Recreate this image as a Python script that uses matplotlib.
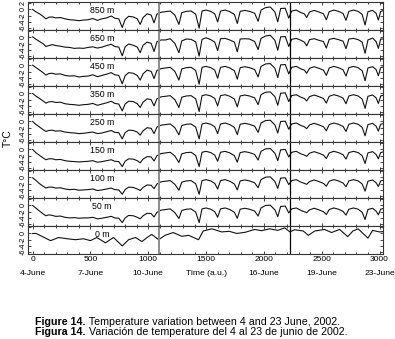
import matplotlib
matplotlib.use('Agg')
import matplotlib.pyplot as plt
from matplotlib.ticker import MultipleLocator

plt.rcParams['font.family'] = ['Liberation Sans', 'DejaVu Sans']

# time axis (a.u.) shared by the sub-surface records
t_sub = [0, 30, 60, 90, 115, 140, 170, 200, 240, 280,
         320, 360, 400, 440, 480, 520, 560, 600, 640, 680,
         710, 745, 775, 800, 830, 870, 905, 930, 955, 990,
         1025, 1050, 1075, 1110, 1150, 1190, 1230, 1265, 1290, 1330,
         1370, 1410, 1440, 1465, 1500, 1540, 1575, 1600, 1625, 1665,
         1705, 1745, 1770, 1795, 1835, 1875, 1920, 1950, 1975, 2015,
         2055, 2095, 2120, 2145, 2185, 2215, 2240, 2280, 2320, 2350,
         2370, 2395, 2435, 2475, 2515, 2540, 2565, 2605, 2645, 2685,
         2710, 2735, 2775, 2815, 2850, 2875, 2900, 2940, 2970, 2990,
         3010, 3030]

v850 = [0.0, -0.8, -1.4, -2.2, -3.0, -2.5, -2.4, -2.7, -2.6, -3.0,
        -3.3, -3.4, -3.6, -3.4, -3.3, -2.9, -3.5, -3.0, -2.7, -2.1,
        -2.8, -3.0, -5.8, -3.2, -2.2, -2.4, -3.0, -4.8, -2.6, -1.4,
        -1.8, -4.3, -1.5, -0.9, -0.7, -0.5, -1.8, -4.8, -1.0, -0.6,
        -0.5, -1.5, -6.0, -0.5, -0.2, -0.6, -1.4, -4.0, -0.5, -0.2,
        -0.7, -1.6, -4.5, -0.6, -0.3, -0.6, -1.2, -3.8, -0.2, 0.6,
        0.8, -0.8, -4.0, 0.3, 0.4, -2.8, -0.5, -0.2, -1.0, -1.4,
        -2.6, -0.8, -0.3, -0.8, -1.4, -3.3, -0.7, -0.2, -0.6, -1.3,
        -3.5, -0.6, -0.2, -0.6, -1.6, -5.0, -0.7, -0.3, -1.2, -3.4,
        -0.6, -0.4]

v650 = [0.2, -0.6, -1.3, -2.0, -2.9, -2.6, -2.3, -2.6, -2.8, -3.1,
        -3.2, -3.5, -3.4, -3.5, -3.2, -3.0, -3.4, -3.1, -2.6, -2.2,
        -2.9, -3.1, -5.9, -3.0, -2.1, -2.5, -3.1, -4.9, -2.5, -1.5,
        -1.9, -4.5, -1.4, -0.8, -0.8, -0.4, -1.9, -4.9, -1.1, -0.5,
        -0.6, -1.4, -6.0, -0.6, -0.1, -0.7, -1.5, -4.2, -0.4, -0.3,
        -0.8, -1.5, -4.6, -0.5, -0.4, -0.5, -1.3, -3.9, -0.3, 0.5,
        0.7, -0.9, -4.1, 0.2, 0.3, -2.9, -0.6, -0.3, -0.9, -1.5,
        -2.7, -0.7, -0.4, -0.9, -1.3, -3.4, -0.6, -0.3, -0.7, -1.2,
        -3.6, -0.5, -0.3, -0.7, -1.5, -5.1, -0.8, -0.2, -1.3, -3.5,
        -0.5, -0.5]

v450 = [0.1, -0.7, -1.5, -2.3, -3.1, -2.6, -2.5, -2.8, -2.7, -3.2,
        -3.4, -3.3, -3.7, -3.5, -3.4, -3.0, -3.6, -3.2, -2.8, -2.3,
        -3.0, -3.2, -5.9, -3.3, -2.3, -2.5, -3.2, -4.7, -2.7, -1.5,
        -1.9, -4.2, -1.6, -1.0, -0.8, -0.6, -1.9, -4.7, -1.1, -0.7,
        -0.6, -1.6, -6.0, -0.6, -0.3, -0.7, -1.5, -4.1, -0.6, -0.3,
        -0.8, -1.7, -4.4, -0.7, -0.4, -0.7, -1.3, -3.7, -0.3, 0.5,
        0.6, -0.9, -3.9, 0.2, 0.3, -2.7, -0.6, -0.3, -1.1, -1.5,
        -2.5, -0.9, -0.4, -0.9, -1.5, -3.2, -0.8, -0.3, -0.7, -1.4,
        -3.4, -0.7, -0.3, -0.7, -1.7, -4.9, -0.8, -0.4, -1.3, -3.3,
        -0.7, -0.5]

v350 = [0.0, -0.9, -1.6, -2.4, -3.1, -2.7, -2.6, -2.9, -2.8, -3.3,
        -3.5, -3.6, -3.8, -3.6, -3.5, -3.2, -3.8, -3.4, -3.0, -2.5,
        -3.2, -3.4, -5.6, -3.4, -2.5, -2.6, -3.3, -4.5, -2.8, -1.7,
        -2.0, -4.0, -1.7, -1.1, -0.9, -0.7, -2.0, -4.5, -1.2, -0.8,
        -0.7, -1.7, -5.8, -0.7, -0.4, -0.8, -1.6, -4.0, -0.7, -0.4,
        -0.9, -1.8, -4.3, -0.8, -0.5, -0.8, -1.4, -3.6, -0.4, 0.4,
        0.5, -1.0, -3.8, 0.1, 0.2, -2.6, -0.7, -0.4, -1.2, -1.6,
        -2.4, -1.0, -0.5, -1.0, -1.6, -3.1, -0.9, -0.4, -0.8, -1.5,
        -3.3, -0.8, -0.4, -0.8, -1.8, -4.8, -0.9, -0.5, -1.4, -3.2,
        -0.8, -0.6]

v250 = [0.0, -1.0, -1.8, -2.6, -3.2, -2.9, -2.8, -3.1, -3.0, -3.4,
        -3.6, -3.7, -3.9, -3.8, -3.6, -3.4, -3.9, -3.7, -3.3, -2.9,
        -3.5, -3.6, -5.6, -3.6, -2.8, -2.9, -3.4, -4.4, -3.0, -2.0,
        -2.2, -3.9, -1.8, -1.2, -1.0, -0.8, -2.0, -4.3, -1.3, -0.9,
        -0.8, -1.8, -5.6, -0.8, -0.5, -0.9, -1.7, -3.9, -0.8, -0.5,
        -1.0, -1.9, -4.2, -0.9, -0.6, -0.9, -1.5, -3.5, -0.5, 0.3,
        0.4, -1.1, -3.7, 0.0, 0.1, -2.5, -0.8, -0.5, -1.3, -1.7,
        -2.3, -1.1, -0.6, -1.1, -1.7, -3.0, -1.0, -0.5, -0.9, -1.6,
        -3.2, -0.9, -0.5, -0.9, -1.9, -4.6, -1.0, -0.6, -1.5, -3.1,
        -0.9, -0.7]

v150 = [0.0, -1.1, -1.9, -2.7, -3.3, -3.0, -3.0, -3.3, -3.2, -3.6,
        -3.8, -3.9, -4.0, -3.9, -3.8, -3.6, -4.1, -3.9, -3.6, -3.3,
        -3.8, -3.9, -5.5, -3.8, -3.0, -3.1, -3.6, -4.3, -3.1, -2.3,
        -2.4, -3.7, -2.0, -1.3, -1.1, -0.9, -2.1, -4.2, -1.4, -1.0,
        -0.9, -1.9, -5.5, -0.9, -0.6, -1.0, -1.8, -3.8, -0.9, -0.6,
        -1.1, -2.0, -4.1, -1.0, -0.7, -1.0, -1.6, -3.4, -0.6, 0.2,
        0.3, -1.2, -3.6, -0.1, 0.0, -2.4, -0.9, -0.6, -1.4, -1.8,
        -2.2, -1.2, -0.7, -1.2, -1.8, -2.9, -1.1, -0.6, -1.0, -1.7,
        -3.1, -1.0, -0.6, -1.0, -2.0, -4.5, -1.1, -0.7, -1.6, -3.0,
        -1.0, -0.8]

v100 = [-0.1, -1.0, -2.0, -2.8, -3.4, -3.1, -3.1, -3.4, -3.3, -3.7,
        -3.9, -3.8, -4.1, -4.0, -3.9, -3.7, -4.2, -4.0, -3.7, -3.4,
        -3.9, -4.0, -5.4, -3.9, -3.1, -3.2, -3.7, -4.2, -3.2, -2.4,
        -2.5, -3.6, -2.1, -1.4, -1.2, -1.0, -2.2, -4.1, -1.5, -1.1,
        -1.0, -2.0, -5.4, -1.0, -0.7, -1.1, -1.9, -3.7, -1.0, -0.7,
        -1.2, -2.1, -4.0, -1.1, -0.8, -1.1, -1.7, -3.3, -0.7, 0.1,
        0.2, -1.3, -3.5, -0.2, -0.1, -2.3, -1.0, -0.7, -1.5, -1.9,
        -2.2, -1.3, -0.8, -1.3, -1.9, -2.8, -1.2, -0.7, -1.1, -1.8,
        -3.0, -1.1, -0.7, -1.1, -2.1, -4.4, -1.2, -0.8, -1.7, -2.9,
        -1.1, -0.9]

v50 = [0.0, -0.9, -1.8, -2.7, -3.3, -3.0, -3.2, -3.5, -3.4, -3.8,
       -4.0, -3.9, -4.1, -4.0, -4.0, -3.8, -4.3, -4.1, -3.8, -3.5,
       -4.0, -4.1, -5.5, -4.0, -3.2, -3.3, -3.8, -4.3, -3.3, -2.5,
       -2.6, -3.7, -2.2, -1.5, -1.3, -1.1, -2.3, -4.2, -1.6, -1.2,
       -1.1, -2.1, -5.5, -1.1, -0.8, -1.2, -2.0, -3.8, -1.1, -0.8,
       -1.3, -2.2, -4.1, -1.2, -0.9, -1.2, -1.8, -3.4, -0.8, 0.0,
       0.1, -1.4, -3.6, -0.3, -0.2, -2.4, -1.1, -0.8, -1.6, -2.0,
       -2.3, -1.4, -0.9, -1.4, -2.0, -2.9, -1.3, -0.8, -1.2, -1.9,
       -3.1, -1.2, -0.8, -1.2, -2.2, -4.5, -1.3, -0.9, -1.8, -3.0,
       -1.2, -1.0]

# surface record
t0 = [0, 30, 85, 155, 225, 300, 370, 440, 500, 555,
      630, 670, 700, 775, 830, 890, 945, 990, 1030, 1090,
      1145, 1215, 1290, 1350, 1435, 1475, 1550, 1635, 1700, 1765,
      1840, 1920, 1980, 2050, 2120, 2180, 2225, 2265, 2340, 2385,
      2440, 2525, 2585, 2655, 2725, 2770, 2815, 2900, 2940, 3000,
      3030]
v0 = [0.0, 0.0, -1.0, -2.3, -1.3, -1.7, -2.0, -1.7, -2.3, -1.3,
      -3.0, -2.0, -1.3, -4.0, -2.0, -1.3, -2.6, -1.3, -0.3, -2.0,
      -0.6, 0.3, -0.9, -0.6, -2.0, 0.8, 1.5, 0.5, 0.7, 0.0,
      0.4, 1.3, 0.9, 1.5, 1.0, 1.8, 0.5, 1.2, 0.8, -0.6,
      0.8, 1.3, 0.3, 1.3, -1.0, 0.8, 1.5, -1.5, 1.0, 0.5,
      0.6]

depth_labels = ['850 m', '650 m', '450 m', '350 m', '250 m', '150 m', '100 m', '50 m', '0 m']
series = [v850, v650, v450, v350, v250, v150, v100, v50, v0]
times = [t_sub] * 8 + [t0]

y_ticks = [2, 0, -2, -4, -6]
x_ticks = [0, 500, 1000, 1500, 2000, 2500, 3000]
x_dates = ['4-June', '7-June', '10-June', 'Time (a.u.)', '16-June', '19-June', '23-June']
marks = [1095, 2228]

fig, axes = plt.subplots(9, 1, sharex=True, figsize=(3.95, 3.39), dpi=100)
fig.subplots_adjust(left=0.0709, right=0.9696, top=0.9941, bottom=0.2507, hspace=0)

for i, ax in enumerate(axes):
    ax.plot(times[i], series[i], color='#111111', lw=0.8)
    ax.axvline(marks[0], color='#8c8c8c', lw=1.4)
    ax.axvline(marks[1], color='black', lw=0.9)
    ax.set_ylim(-6.6, 2.4)
    ax.set_yticks(y_ticks)
    labs = [str(v) for v in y_ticks]
    if i > 0:
        labs[0] = ''
    ax.set_yticklabels(labs, rotation=90, fontsize=5.2, va='center')
    ax.text(600, -0.2, depth_labels[i], ha='center', va='center', fontsize=6.3)
    ax.xaxis.set_minor_locator(MultipleLocator(100))
    ax.tick_params(which='both', direction='in', top=True, right=True,
                   length=2, width=0.5, pad=1)
    ax.tick_params(which='minor', length=1.2)
    for s in ax.spines.values():
        s.set_linewidth(0.8)
        s.set_color('#333333')

ax = axes[-1]
ax.set_xlim(-40, 3030)
ax.set_xticks(x_ticks)
ax.set_xticklabels([str(v) for v in x_ticks], fontsize=6)
ax.tick_params(axis='x', pad=1.5)
for xv, lab in zip(x_ticks, x_dates):
    ax.text(xv, -0.68, lab, transform=ax.get_xaxis_transform(),
            ha='center', va='center', fontsize=6.1)

fig.text(8 / 395, 1 - 138 / 339, 'T°C', rotation=90, ha='center', va='center', fontsize=7.5)

# caption with bold prefix
captions = [('Figure 14.', ' Temperature variation between 4 and 23 June, 2002.'),
            ('Figura 14.', ' Variación de temperature del 4 al 23 de junio de 2002.')]
fig.canvas.draw()
renderer = fig.canvas.get_renderer()
for k, (b, rest) in enumerate(captions):
    y = 1 - (322 + 9.6 * k) / 339
    tb = fig.text(35 / 395, y, b, fontweight='bold', fontsize=7.7, va='center')
    bb = tb.get_window_extent(renderer=renderer)
    fig.text(bb.x1 / fig.bbox.width, y, rest, fontsize=7.7, va='center')

fig.savefig('out.png', dpi=100)
